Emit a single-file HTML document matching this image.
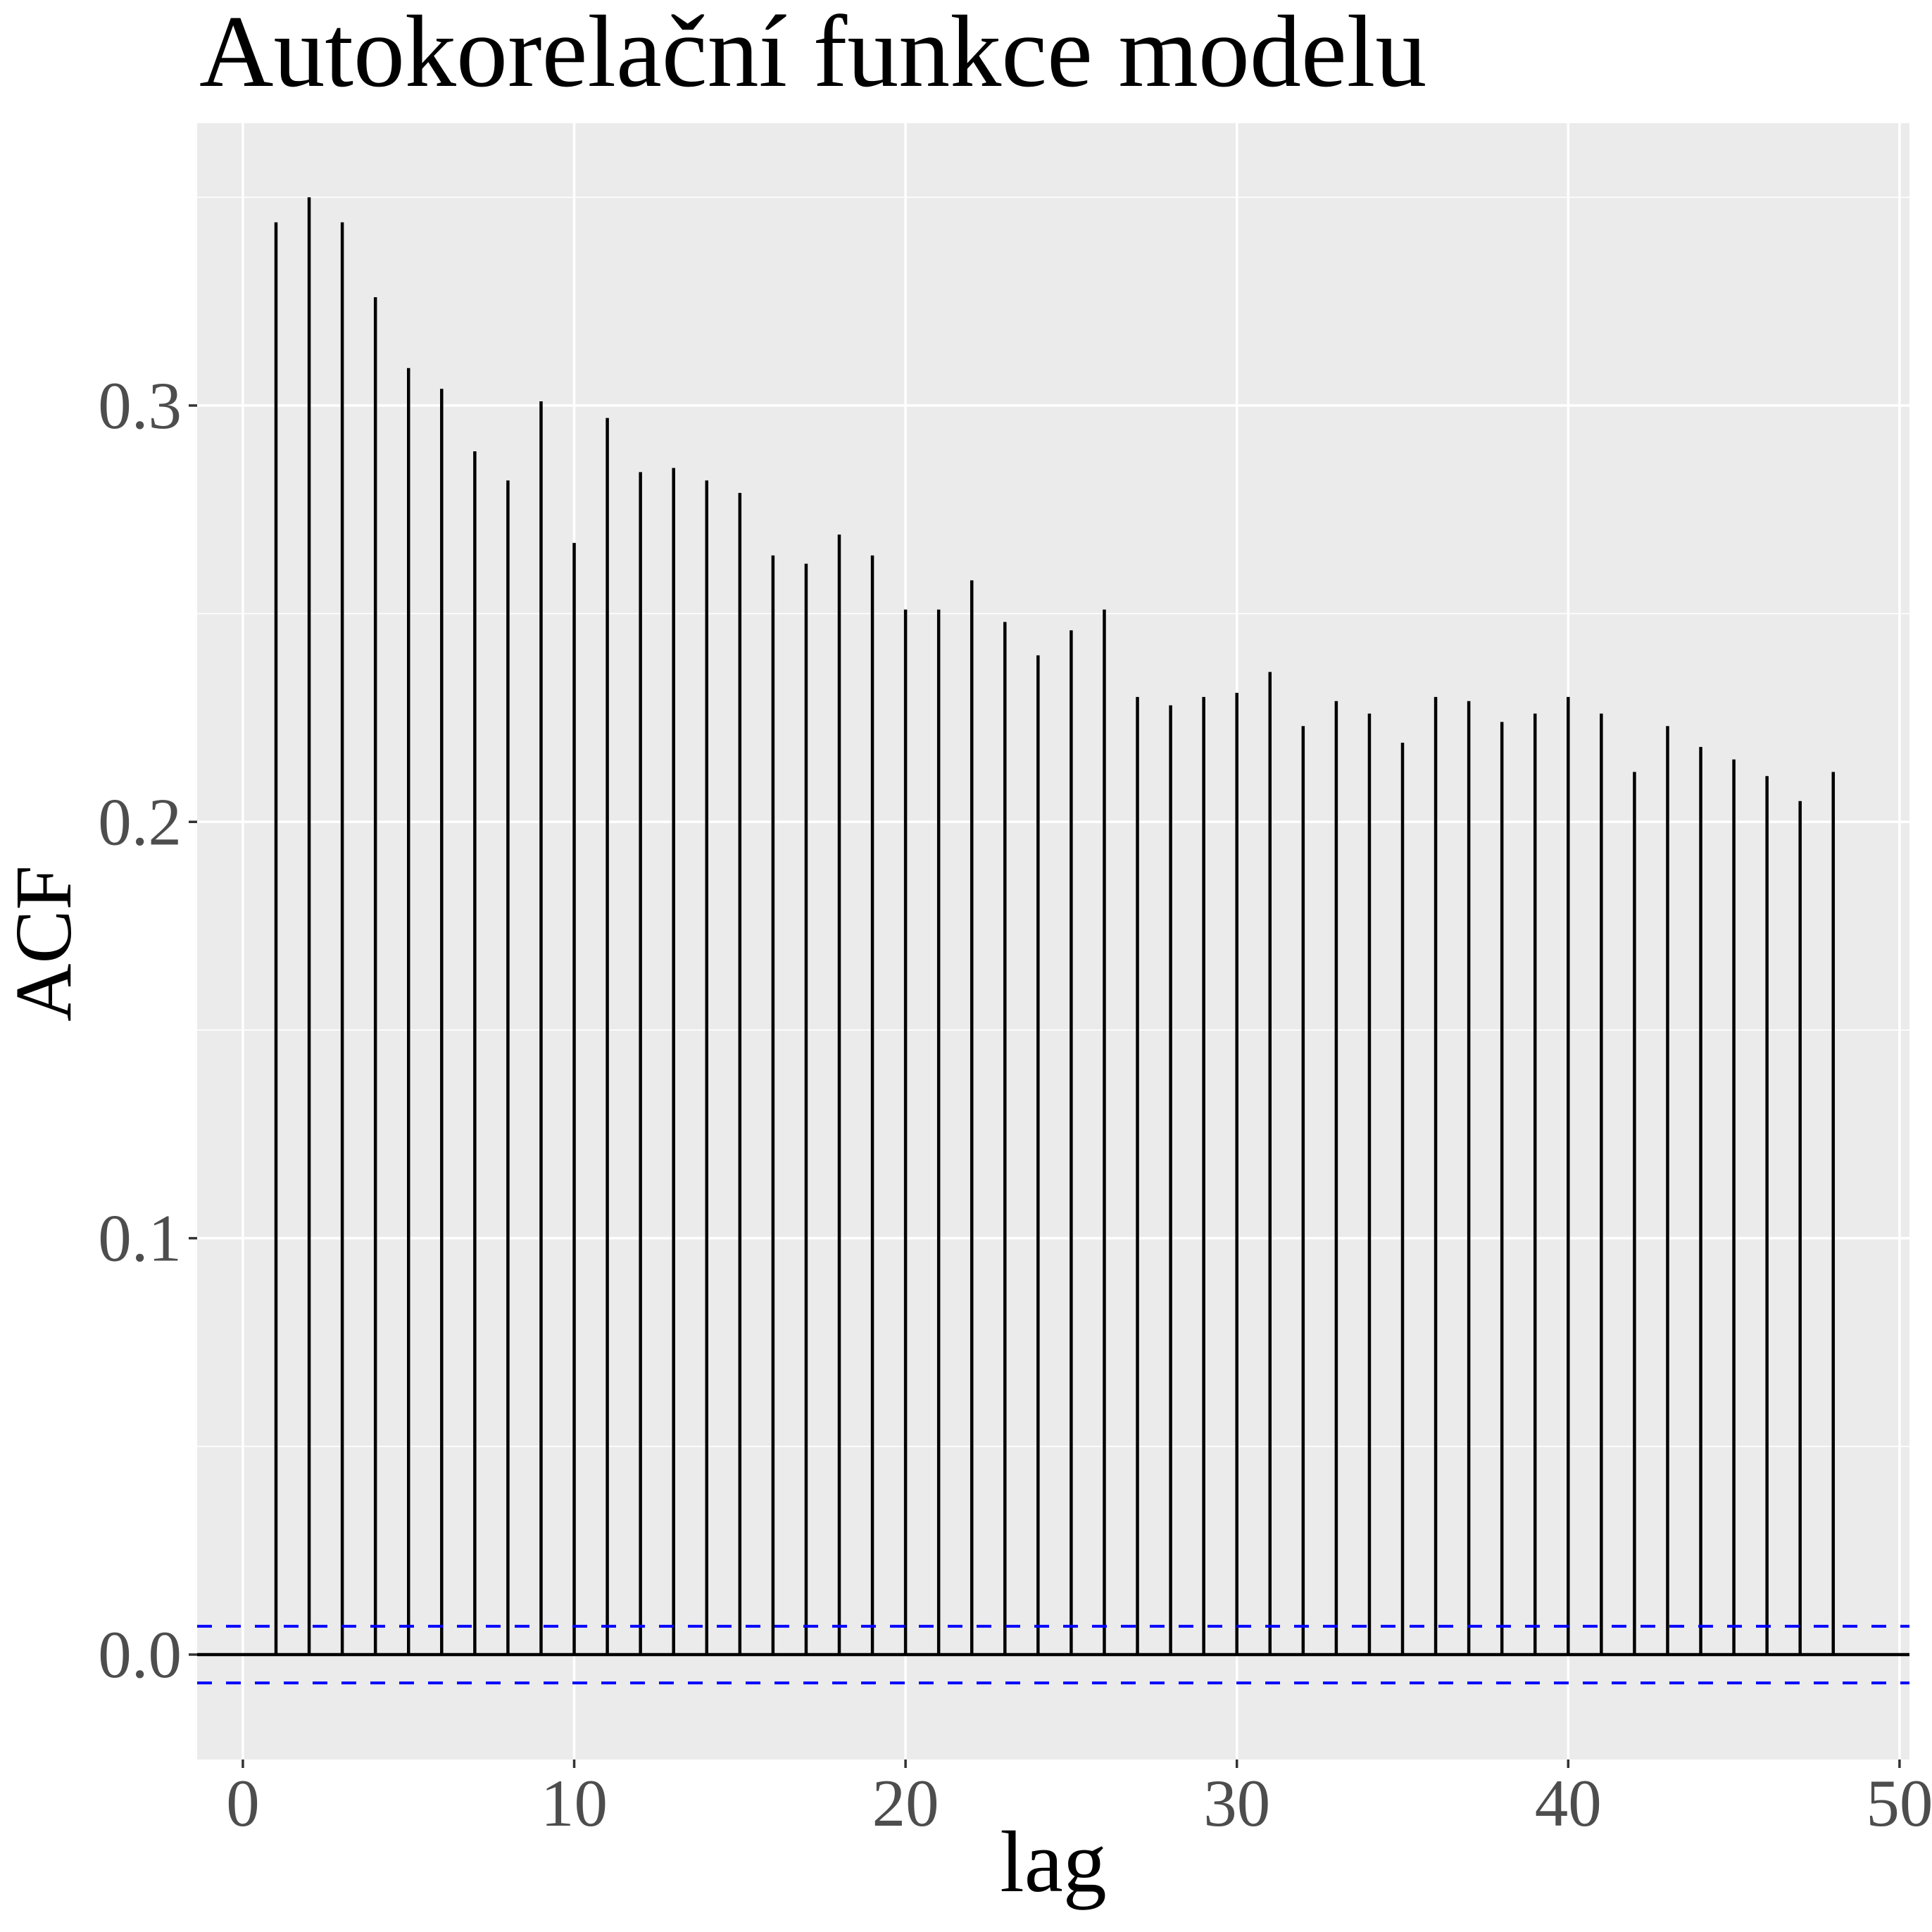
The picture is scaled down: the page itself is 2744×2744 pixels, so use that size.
<!DOCTYPE html>
<html><head><meta charset="utf-8"><style>
html,body{margin:0;padding:0;background:#fff;}
svg{display:block;font-family:"Liberation Serif",serif;}
</style></head><body>
<svg id="chart" width="2744" height="2744" viewBox="0 0 2744 2744" xmlns="http://www.w3.org/2000/svg">
<text x="283" y="122" font-size="146" fill="#000">Autokorelační funkce modelu</text>
<rect x="280" y="175" width="2432" height="2324" fill="#ebebeb"/>
<g id="grid"></g>
<g id="marks"></g>
<g id="axes"></g>
<text x="1496" y="2686" font-size="124" text-anchor="middle" fill="#000">lag</text>
<text transform="translate(100,1340) rotate(-90)" font-size="114" text-anchor="middle" fill="#000">ACF</text>
</svg>
<script>
const lags = [1,2,3,4,5,6,7,8,9,10,11,12,13,14,15,16,17,18,19,20,21,22,23,24,25,26,27,28,29,30,31,32,33,34,35,36,37,38,39,40,41,42,43,44,45,46,47,48];
const acfValues = [0.344,0.350,0.344,0.326,0.309,0.304,0.289,0.282,0.301,0.267,0.297,0.284,0.285,0.282,0.279,0.264,0.262,0.269,0.264,0.251,0.251,0.258,0.248,0.240,0.246,0.251,0.230,0.228,0.230,0.231,0.236,0.223,0.229,0.226,0.219,0.230,0.229,0.224,0.226,0.230,0.226,0.212,0.223,0.218,0.215,0.211,0.205,0.212];
const confBound = 0.0068;
const xTicks = [0,10,20,30,40,50];
const xTickLabels = ["0","10","20","30","40","50"];
const yTicks = [0,0.1,0.2,0.3];
const yTickLabels = ["0.0","0.1","0.2","0.3"];
const yMinor = [0.05,0.15,0.25,0.35];

const NS = "http://www.w3.org/2000/svg";
const X0 = 280, X1 = 2712, Y0 = 175, Y1 = 2499;
const xMin = -1.38, xMax = 50.3, yMin = -0.0252, yMax = 0.3678;
function xs(v){ return X0 + (v - xMin) / (xMax - xMin) * (X1 - X0); }
function ys(v){ return Y1 - (v - yMin) / (yMax - yMin) * (Y1 - Y0); }
function mk(tag, attrs, parent){ const e = document.createElementNS(NS, tag); for (const k in attrs) e.setAttribute(k, attrs[k]); parent.appendChild(e); return e; }

const grid = document.getElementById('grid');
yMinor.forEach(v => {
  const l = mk('line', {x1:X0, x2:X1, y1:ys(v), y2:ys(v), stroke:'#fff', 'stroke-width':1.6}, grid);
  
  
});
yTicks.forEach(v => {
  const l = mk('line', {x1:X0, x2:X1, y1:ys(v), y2:ys(v), stroke:'#fff', 'stroke-width':3.5}, grid);
  
  
});
xTicks.forEach(v => {
  const l = mk('line', {x1:xs(v), x2:xs(v), y1:Y0, y2:Y1, stroke:'#fff', 'stroke-width':3.5}, grid);
  
  
});

const marks = document.getElementById('marks');
lags.forEach((lag, i) => {
  const l = mk('line', {x1:xs(lag), x2:xs(lag), y1:ys(0), y2:ys(acfValues[i]), stroke:'#000', 'stroke-width':4.5}, marks);
  
  
});
const zl = mk('line', {x1:X0, x2:X1, y1:ys(0), y2:ys(0), stroke:'#000', 'stroke-width':4.5}, marks);


[confBound, -confBound].forEach(v => {
  const l = mk('line', {x1:X0, x2:X1, y1:ys(v), y2:ys(v), stroke:'#0000ff', 'stroke-width':4, 'stroke-dasharray':'21 20'}, marks);
  
  
});

const axes = document.getElementById('axes');
yTicks.forEach((v, i) => {
  const t = mk('line', {x1:X0-12, x2:X0, y1:ys(v), y2:ys(v), stroke:'#333', 'stroke-width':3.5}, axes);
  
  
  const tx = mk('text', {x:X0-22, y:ys(v)+32, 'font-size':95, 'text-anchor':'end', fill:'#4d4d4d'}, axes);
  tx.textContent = yTickLabels[i];
  
  
});
xTicks.forEach((v, i) => {
  const t = mk('line', {x1:xs(v), x2:xs(v), y1:Y1, y2:Y1+12, stroke:'#333', 'stroke-width':3.5}, axes);
  
  
  const tx = mk('text', {x:xs(v), y:Y1+94, 'font-size':95, 'text-anchor':'middle', fill:'#4d4d4d'}, axes);
  tx.textContent = xTickLabels[i];
  
  
});
</script>
</body></html>
